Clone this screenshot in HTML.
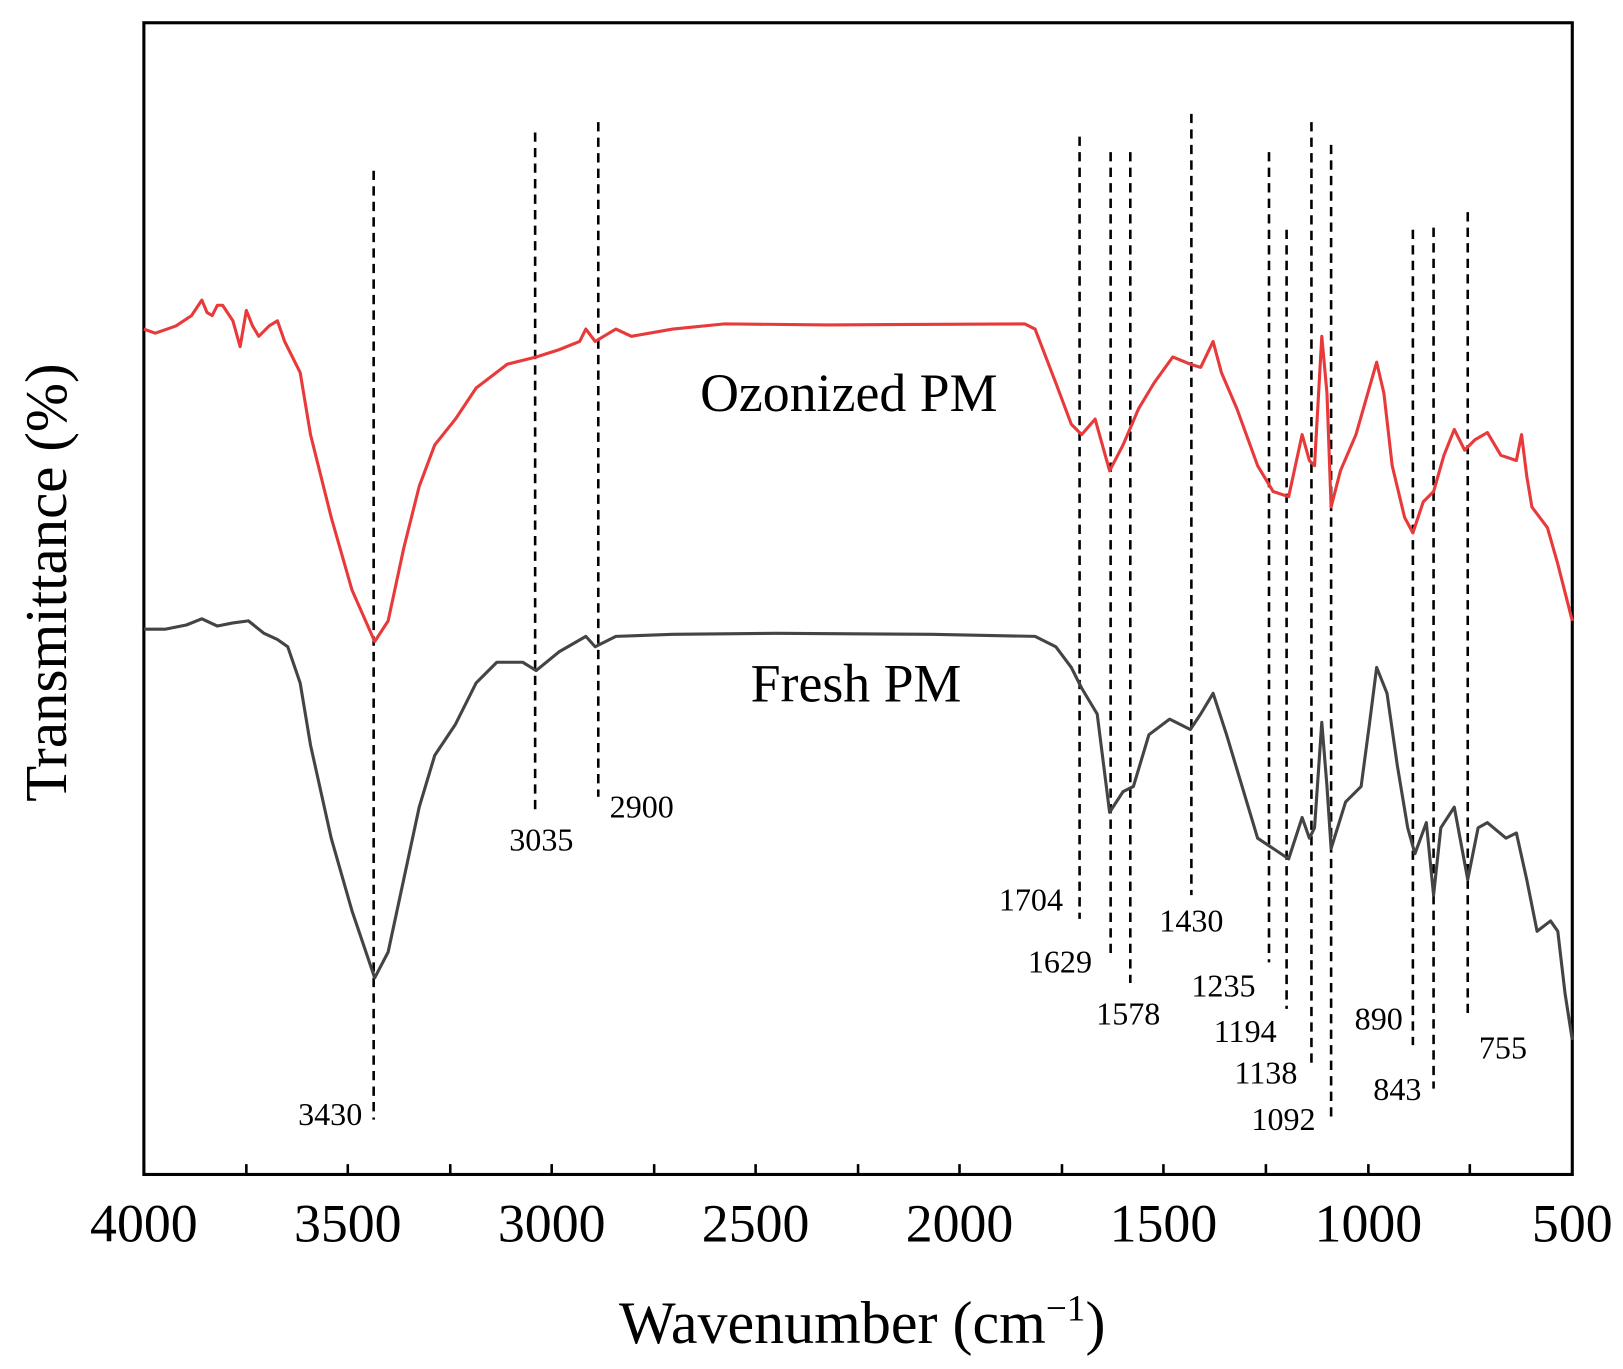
<!DOCTYPE html>
<html><head><style>html,body{margin:0;padding:0;background:#fff}svg{display:block}</style></head>
<body>
<svg width="1623" height="1369" viewBox="0 0 1568 1323" preserveAspectRatio="none" xmlns="http://www.w3.org/2000/svg" font-family="Liberation Serif, serif">
<rect x="139" y="22" width="1380" height="1113" fill="none" stroke="#000" stroke-width="3"/>
<g stroke="#000" stroke-width="2.5">
<line x1="139" y1="1135" x2="139" y2="1125"/><line x1="238" y1="1135" x2="238" y2="1125"/><line x1="336" y1="1135" x2="336" y2="1125"/><line x1="435" y1="1135" x2="435" y2="1125"/><line x1="533" y1="1135" x2="533" y2="1125"/><line x1="632" y1="1135" x2="632" y2="1125"/><line x1="730" y1="1135" x2="730" y2="1125"/><line x1="829" y1="1135" x2="829" y2="1125"/><line x1="927" y1="1135" x2="927" y2="1125"/><line x1="1026" y1="1135" x2="1026" y2="1125"/><line x1="1124" y1="1135" x2="1124" y2="1125"/><line x1="1223" y1="1135" x2="1223" y2="1125"/><line x1="1322" y1="1135" x2="1322" y2="1125"/><line x1="1420" y1="1135" x2="1420" y2="1125"/>
</g>
<g font-size="52" text-anchor="middle">
<text x="139" y="1200">4000</text><text x="336" y="1200">3500</text><text x="533" y="1200">3000</text><text x="730" y="1200">2500</text><text x="927" y="1200">2000</text><text x="1124" y="1200">1500</text><text x="1322" y="1200">1000</text><text x="1519" y="1200">500</text>
</g>
<text x="833" y="1298" font-size="58" text-anchor="middle">Wavenumber (cm<tspan dy="-22" font-size="36">−1</tspan><tspan dy="22">)</tspan></text>
<text transform="translate(64,563) rotate(-90)" font-size="57" text-anchor="middle">Transmittance (%)</text>
<g stroke="#000" stroke-width="2.5" stroke-dasharray="9,6">
<line x1="361" y1="165" x2="361" y2="1082"/><line x1="517" y1="128" x2="517" y2="782"/><line x1="578" y1="118" x2="578" y2="770"/><line x1="1043" y1="132" x2="1043" y2="888"/><line x1="1073" y1="147" x2="1073" y2="925"/><line x1="1092" y1="147" x2="1092" y2="950"/><line x1="1151" y1="110" x2="1151" y2="865"/><line x1="1226" y1="147" x2="1226" y2="930"/><line x1="1243" y1="222" x2="1243" y2="975"/><line x1="1267" y1="118" x2="1267" y2="1030"/><line x1="1286" y1="140" x2="1286" y2="1080"/><line x1="1365" y1="222" x2="1365" y2="1010"/><line x1="1385" y1="220" x2="1385" y2="1052"/><line x1="1418" y1="205" x2="1418" y2="985"/>
</g>
<g font-size="31" text-anchor="middle">
<text x="319" y="1087">3430</text><text x="523" y="822">3035</text><text x="620" y="790">2900</text><text x="996" y="880">1704</text><text x="1024" y="940">1629</text><text x="1090" y="990">1578</text><text x="1151" y="900">1430</text><text x="1182" y="963">1235</text><text x="1203" y="1007">1194</text><text x="1223" y="1047">1138</text><text x="1240" y="1092">1092</text><text x="1332" y="995">890</text><text x="1350" y="1063">843</text><text x="1452" y="1023">755</text>
</g>
<text x="820" y="397" font-size="52" text-anchor="middle">Ozonized PM</text>
<text x="827" y="678" font-size="52" text-anchor="middle">Fresh PM</text>
<polyline fill="none" stroke="#e83a3a" stroke-width="3" stroke-linejoin="round" points="139,318 150,322 170,315 185,305 195,290 200,302 205,305 210,295 215,295 225,310 232,335 238,300 244,315 250,325 260,315 268,310 275,330 290,360 300,420 320,500 340,570 362,620 375,600 390,530 405,470 420,430 440,405 460,375 490,352 518,345 540,338 560,330 566,318 575,330 595,318 610,325 650,318 700,313 800,314 990,313 1000,318 1020,370 1035,410 1045,420 1058,405 1072,455 1085,430 1100,395 1115,370 1133,345 1150,352 1160,355 1172,330 1180,360 1195,395 1215,450 1230,475 1245,480 1258,420 1265,445 1270,450 1277,325 1282,380 1286,490 1295,455 1310,420 1320,385 1330,350 1337,380 1345,450 1357,500 1365,515 1375,485 1385,475 1395,440 1405,415 1415,435 1425,425 1437,418 1450,440 1465,445 1470,420 1475,460 1480,490 1495,510 1505,545 1519,600"/>
<polyline fill="none" stroke="#444" stroke-width="3" stroke-linejoin="round" points="139,608 160,608 180,604 195,598 210,605 225,602 240,600 255,612 268,618 278,625 290,660 300,720 320,810 340,880 362,945 375,920 390,850 405,780 420,730 440,700 460,660 480,640 505,640 518,648 540,630 566,615 575,625 595,615 650,613 750,612 900,613 1000,615 1020,625 1035,645 1045,665 1060,690 1072,785 1085,765 1095,760 1110,710 1130,695 1150,705 1160,690 1172,670 1185,710 1200,760 1215,810 1230,820 1245,830 1258,790 1265,810 1270,800 1277,698 1282,760 1286,820 1300,775 1315,760 1323,700 1330,645 1340,670 1350,740 1360,800 1367,825 1378,795 1385,865 1392,800 1405,780 1418,850 1428,800 1437,795 1455,810 1465,805 1475,850 1485,900 1498,890 1505,900 1512,960 1519,1005"/>
</svg>
</body></html>
